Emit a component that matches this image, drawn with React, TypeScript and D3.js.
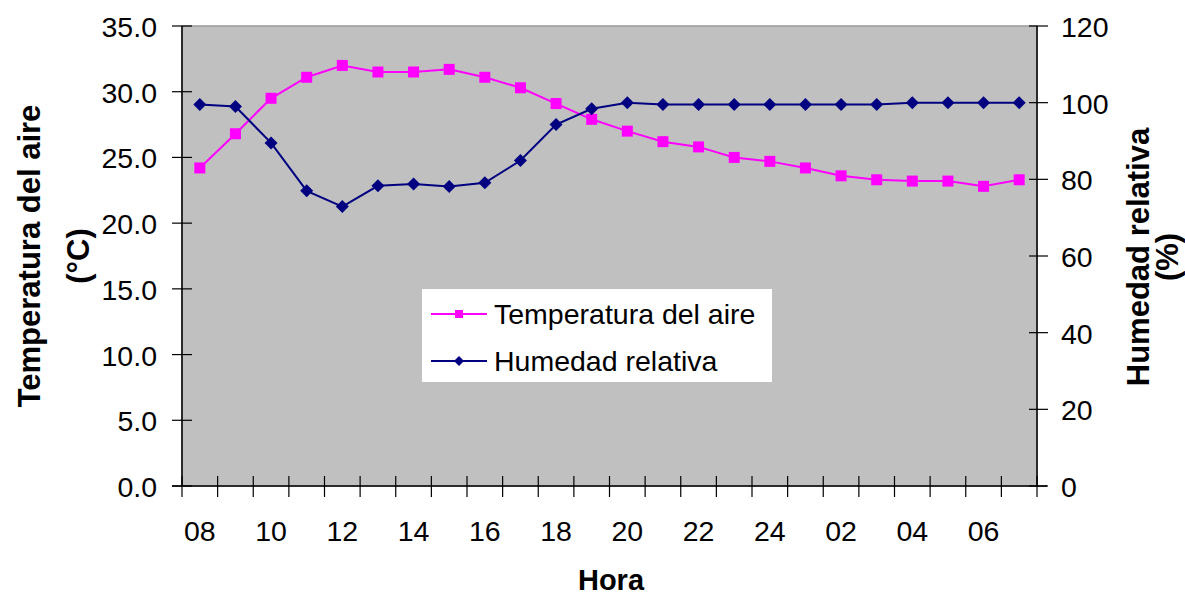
import React from "react";
import * as d3 from "d3";

const hours = ["08","09","10","11","12","13","14","15","16","17","18","19","20","21","22","23","24","01","02","03","04","05","06","07"];
const temperature = [24.2,26.8,29.5,31.1,32.0,31.5,31.5,31.7,31.1,30.3,29.1,27.9,27.0,26.2,25.8,25.0,24.7,24.2,23.6,23.3,23.2,23.2,22.8,23.3];
const humidity = [99.5,99.0,89.5,77.0,72.9,78.3,78.8,78.1,79.1,84.9,94.3,98.4,100.0,99.5,99.5,99.5,99.5,99.5,99.5,99.5,100,100,100,100];
const leftTicks = [0,5,10,15,20,25,30,35];
const rightTicks = [0,20,40,60,80,100,120];
const seriesNames = ["Temperatura del aire","Humedad relativa"];

const W = 1185, H = 597;
const L = 182, R = 1037, T = 26, B = 486;
const FONT = "'Liberation Sans', Arial, sans-serif";
const PINK = "#FF00FF", NAVY = "#000080";
const FS = 28.5, FB = 31;

export default function App() {
  const x = d3.scaleBand<string>().domain(hours).range([L, R]).padding(0);
  const cx = (i: number) => (x(hours[i]) as number) + x.bandwidth() / 2;
  const yL = d3.scaleLinear().domain([0, 35]).range([B, T]);
  const yR = d3.scaleLinear().domain([0, 120]).range([B, T]);
  const tLine = d3.line<number>().x((_, i) => cx(i)).y(d => yL(d));
  const hLine = d3.line<number>().x((_, i) => cx(i)).y(d => yR(d));
  const boundaries = d3.range(hours.length + 1).map(i => L + i * x.bandwidth());
  const diamond = (px: number, py: number, r: number) => `M${px},${py - r}L${px + r},${py}L${px},${py + r}L${px - r},${py}Z`;

  return (
    <svg width={W} height={H} style={{ position: "absolute", left: 0, top: 0, background: "#fff" }} fontFamily={FONT}>
      <rect x={L} y={T} width={R - L} height={B - T} fill="#C0C0C0" stroke="#9a9a9a" strokeWidth={1.5} />
      {/* axes */}
      <line x1={L} y1={T} x2={L} y2={B} stroke="#000" strokeWidth={1.5} />
      <line x1={R} y1={T} x2={R} y2={B} stroke="#000" strokeWidth={1.5} />
      <line x1={L - 10} y1={B} x2={R + 10} y2={B} stroke="#000" strokeWidth={1.5} />
      {leftTicks.map(t => (
        <g key={"l" + t}>
          <line x1={L - 10} x2={L + 10} y1={yL(t)} y2={yL(t)} stroke="#000" strokeWidth={1.2} />
          <text x={157} y={yL(t) + 1} textAnchor="end" dominantBaseline="central" fontSize={FS}>{t.toFixed(1)}</text>
        </g>
      ))}
      {rightTicks.map(t => (
        <g key={"r" + t}>
          <line x1={R - 8} x2={R + 11} y1={yR(t)} y2={yR(t)} stroke="#000" strokeWidth={1.2} />
          <text x={1061} y={yR(t) + 1} textAnchor="start" dominantBaseline="central" fontSize={FS}>{t}</text>
        </g>
      ))}
      {boundaries.map((bx, i) => (
        <line key={"b" + i} x1={bx} x2={bx} y1={B - 10} y2={B + 11} stroke="#000" strokeWidth={1.2} />
      ))}
      {hours.map((h, i) => i % 2 === 0 ? (
        <text key={"h" + i} x={cx(i)} y={531} textAnchor="middle" dominantBaseline="central" fontSize={FS}>{h}</text>
      ) : null)}
      {/* series */}
      <path d={tLine(temperature) as string} fill="none" stroke={PINK} strokeWidth={2} />
      {temperature.map((v, i) => (
        <rect key={"t" + i} x={cx(i) - 5.5} y={yL(v) - 5.5} width={11} height={11} fill={PINK} />
      ))}
      <path d={hLine(humidity) as string} fill="none" stroke={NAVY} strokeWidth={2} />
      {humidity.map((v, i) => (
        <path key={"hm" + i} d={diamond(cx(i), yR(v), 6.5)} fill={NAVY} />
      ))}
      {/* legend */}
      <rect x={422} y={289} width={350} height={93} fill="#fff" />
      <line x1={431} x2={487} y1={314} y2={314} stroke={PINK} strokeWidth={2} />
      <rect x={455} y={310} width={8} height={8} fill={PINK} />
      <text x={494} y={314} dominantBaseline="central" fontSize={FS}>{seriesNames[0]}</text>
      <line x1={431} x2={487} y1={361} y2={361} stroke={NAVY} strokeWidth={2} />
      <path d={diamond(459, 361, 5)} fill={NAVY} />
      <text x={494} y={361} dominantBaseline="central" fontSize={FS}>{seriesNames[1]}</text>
      {/* titles */}
      <text transform="translate(29,256) rotate(-90)" textAnchor="middle" dominantBaseline="central" fontSize={FB} fontWeight="bold">Temperatura del aire</text>
      <text transform="translate(78,256) rotate(-90)" textAnchor="middle" dominantBaseline="central" fontSize={FB} fontWeight="bold">(°C)</text>
      <text transform="translate(1138,257) rotate(-90)" textAnchor="middle" dominantBaseline="central" fontSize={FB} fontWeight="bold">Humedad relativa</text>
      <text transform="translate(1167,257) rotate(-90)" textAnchor="middle" dominantBaseline="central" fontSize={FB} fontWeight="bold">(%)</text>
      <text x={611} y={590} textAnchor="middle" fontSize={29} fontWeight="bold">Hora</text>
    </svg>
  );
}
